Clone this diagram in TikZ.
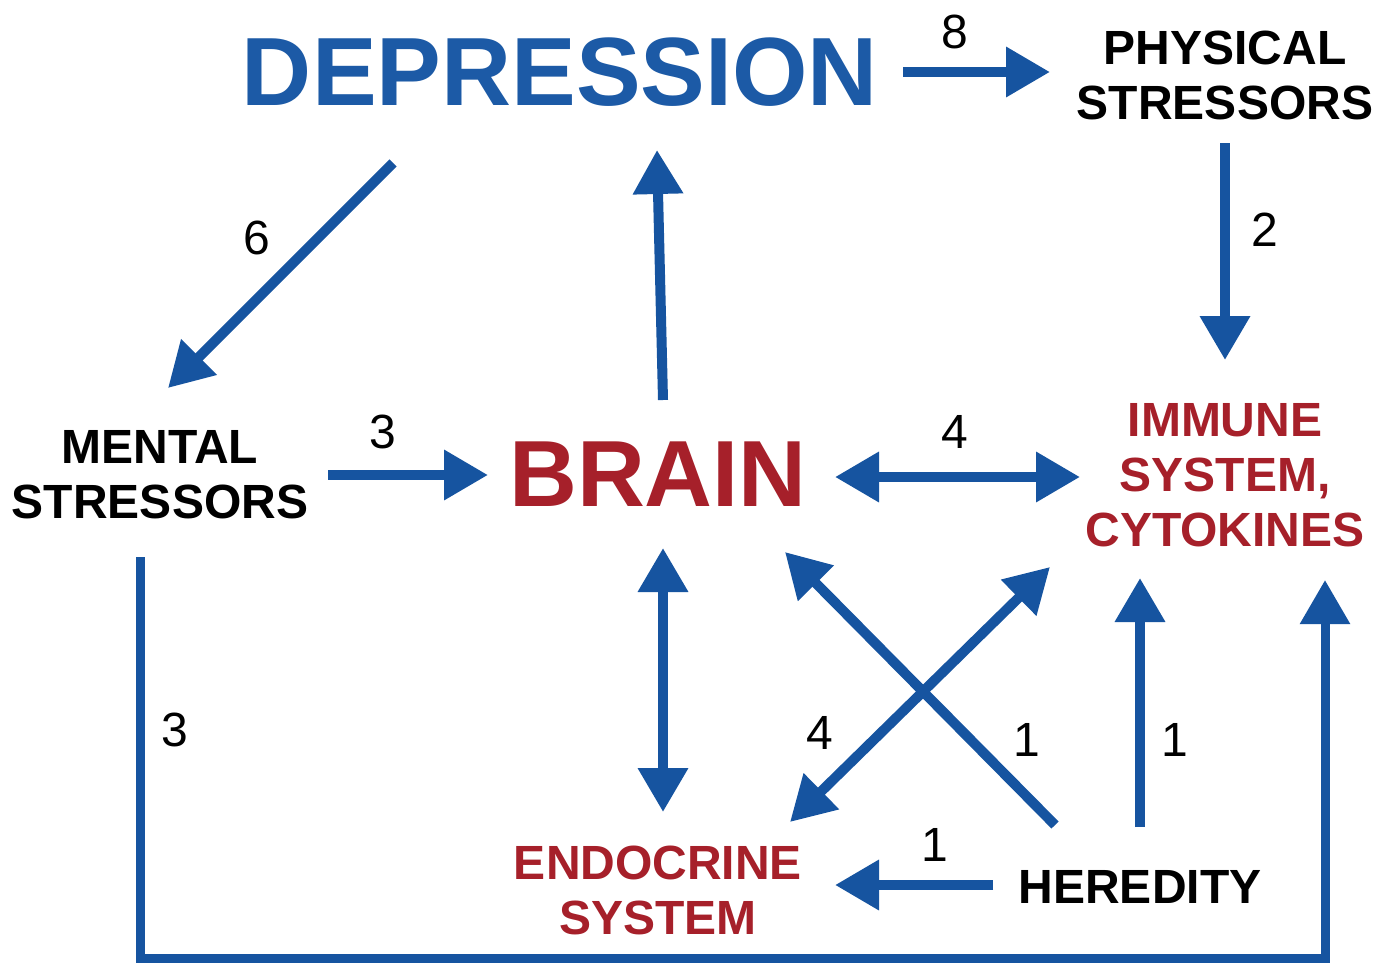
\documentclass[tikz,border=0pt]{standalone}
\usepackage{fontspec}
\setmainfont{Liberation Sans}
\usetikzlibrary{arrows.meta}
\definecolor{arrblue}{RGB}{22,84,160}
\definecolor{depblue}{RGB}{28,90,166}
\definecolor{bred}{RGB}{166,32,42}
\tikzset{
  arr/.style={draw=arrblue, line width=10pt, -{Triangle[length=44pt,width=48pt]}},
  darr/.style={draw=arrblue, line width=10pt, {Triangle[length=44pt,width=48pt]}-{Triangle[length=44pt,width=48pt]}},
  lbl/.style={text=black, font=\fontsize{48}{55}\selectfont, inner sep=0pt},
  box/.style={font=\bfseries\fontsize{48}{55}\selectfont, align=center, inner sep=0pt},
  big/.style={font=\bfseries\fontsize{94}{100}\selectfont, inner sep=0pt}
}
\begin{document}
\begin{tikzpicture}[x=1pt,y=-1pt]
\useasboundingbox[fill=white] (0,0) rectangle (1393,964);
% nodes
\node[big, text=depblue, font=\bfseries\fontsize{97}{100}\selectfont] (dep) at (560,72) {DEPRESSION};
\node[big, text=bred] (brain) at (658,474) {BRAIN};
\node[box, text=black] (phys) at (1225,75) {PHYSICAL\\STRESSORS};
\node[box, text=black] (ment) at (160,475) {MENTAL\\STRESSORS};
\node[box, text=bred] (imm) at (1225,475) {IMMUNE\\SYSTEM,\\CYTOKINES};
\node[box, text=bred] (endo) at (658,890) {ENDOCRINE\\SYSTEM};
\node[box, text=black] (her) at (1140,887) {HEREDITY};
% endpoints
\coordinate (d8s) at (903,72);  \coordinate (d8e) at (1050,72);
\coordinate (p2s) at (1225,143); \coordinate (p2e) at (1225,360);
\coordinate (d6s) at (393,163); \coordinate (d6e) at (168,388);
\coordinate (m3s) at (328,475); \coordinate (m3e) at (488,475);
\coordinate (bds) at (663,400); \coordinate (bde) at (657,150);
\coordinate (bi1) at (835,477); \coordinate (bi2) at (1080,477);
\coordinate (be1) at (663,548); \coordinate (be2) at (663,812);
\coordinate (hbs) at (1055,825); \coordinate (hbe) at (785,552);
\coordinate (ei1) at (790,822); \coordinate (ei2) at (1050,567);
\coordinate (his) at (1140,827); \coordinate (hie) at (1140,578);
\coordinate (hes) at (993,885); \coordinate (hee) at (835,885);
\coordinate (ms) at (140,557); \coordinate (mc1) at (140,958);
\coordinate (mc2) at (1325,958); \coordinate (me) at (1325,580);
% connectors
\draw[arr] (d8s) -- (d8e);
\draw[arr] (p2s) -- (p2e);
\draw[arr] (d6s) -- (d6e);
\draw[arr] (m3s) -- (m3e);
\draw[arr] (bds) -- (bde);
\draw[darr] (bi1) -- (bi2);
\draw[darr] (be1) -- (be2);
\draw[arr] (hbs) -- (hbe);
\draw[darr] (ei1) -- (ei2);
\draw[arr] (his) -- (hie);
\draw[arr] (hes) -- (hee);
\draw[arr, line width=9pt, line join=miter] (ms) -- (mc1) -- (mc2) -- (me);
% labels
\node[lbl] (l8) at (955,32) {8};
\node[lbl] (l2) at (1265,230) {2};
\node[lbl] (l6) at (257,238) {6};
\node[lbl] (l3a) at (383,432) {3};
\node[lbl] (l4a) at (955,432) {4};
\node[lbl] (l3b) at (175,730) {3};
\node[lbl] (l4b) at (820,733) {4};
\node[lbl] (l1a) at (1027,740) {1};
\node[lbl] (l1b) at (1175,740) {1};
\node[lbl] (l1c) at (935,845) {1};
\end{tikzpicture}
\end{document}
